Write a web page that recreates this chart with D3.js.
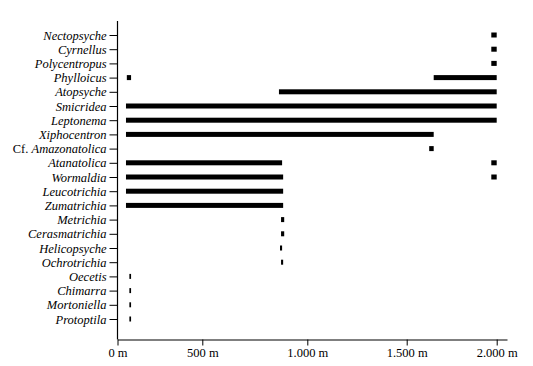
<!DOCTYPE html>
<html>
<head>
<meta charset="utf-8">
<script src="https://cdn.jsdelivr.net/npm/d3@7"></script>
<style>
    body { margin: 0; background: #fff; }
    text { font-family: "Liberation Serif", "DejaVu Serif", serif; }
</style>
</head>
<body>
<div id="chart"></div>
<script>
// taxa from top to bottom
const taxa = [
    "Nectopsyche", "Cyrnellus", "Polycentropus", "Phylloicus", "Atopsyche",
    "Smicridea", "Leptonema", "Xiphocentron", "Cf. Amazonatolica", "Atanatolica",
    "Wormaldia", "Leucotrichia", "Zumatrichia", "Metrichia", "Cerasmatrichia",
    "Helicopsyche", "Ochrotrichia", "Oecetis", "Chimarra", "Mortoniella", "Protoptila"
];

// altitude ranges (m) where each taxon occurs, one list per taxon
const ranges = [
    [[1970, 2000]],
    [[1970, 2000]],
    [[1970, 2000]],
    [[55, 80], [1650, 2000]],
    [[865, 2000]],
    [[50, 2000]],
    [[50, 2000]],
    [[50, 1650]],
    [[1625, 1650]],
    [[50, 880], [1970, 2000]],
    [[50, 885], [1970, 2000]],
    [[50, 885]],
    [[50, 885]],
    [[875, 890]],
    [[875, 890]],
    [[870, 880]],
    [[875, 885]],
    [[70, 80]],
    [[70, 80]],
    [[70, 80]],
    [[70, 80]]
];

const xTicks = [0, 500, 1000, 1500, 2000];

const width = 533;
const height = 366;

const svg = d3.select("#chart")
    .append("svg")
    .attr("width", width)
    .attr("height", height);

// the printed axis is not evenly spaced, so follow its tick positions
const xScale = d3.scaleLinear()
    .domain([0, 500, 1000, 1500, 2000, 2060])
    .range([117.5, 202.3, 307.3, 406.7, 496.7, 507]);

const yScale = d3.scalePoint()
    .domain(taxa)
    .range([35, 319]);

const locale = d3.formatLocale({ decimal: ",", thousands: ".", grouping: [3], currency: ["", ""] });
const fmt = locale.format(",");

const segments = [];
ranges.forEach((list, i) => {
    list.forEach(r => segments.push({ taxon: taxa[i], start: r[0], end: r[1] }));
});

svg.selectAll("rect.seg")
    .data(segments)
    .enter()
    .append("rect")
    .attr("class", "seg")
    .attr("x", d => xScale(d.start))
    .attr("y", d => yScale(d.taxon) - 2.5)
    .attr("width", d => xScale(d.end) - xScale(d.start))
    .attr("height", 5)
    .attr("fill", "#000");

// x axis
const xAxis = svg.append("g")
    .attr("transform", "translate(0,339.5)")
    .call(d3.axisBottom(xScale).tickValues(xTicks).tickSize(6).tickSizeOuter(0).tickFormat(d => fmt(d) + " m"));

xAxis.select(".domain").attr("stroke", "#000").attr("stroke-width", 1.2);
xAxis.selectAll(".tick line").attr("stroke", "#000");
xAxis.selectAll(".tick text")
    .attr("y", 9)
    .attr("fill", "#000")
    .style("font-size", "12.5px");

// y axis
const yAxis = svg.append("g")
    .attr("transform", "translate(117.5,0)")
    .call(d3.axisLeft(yScale).tickSize(8).tickSizeOuter(0));

yAxis.select(".domain").remove();
yAxis.selectAll(".tick line").attr("stroke", "#000");
yAxis.selectAll(".tick text")
    .attr("x", -11)
    .attr("fill", "#000")
    .style("font-size", "12.5px")
    .style("font-style", "italic")
    .each(function (d) {
        if (d.startsWith("Cf. ")) {
            const t = d3.select(this).text("");
            t.append("tspan").style("font-style", "normal").text("Cf. ");
            t.append("tspan").text(d.slice(4));
        }
    });

svg.append("line")
    .attr("x1", xScale(0))
    .attr("x2", xScale(0))
    .attr("y1", 21)
    .attr("y2", 339.5)
    .attr("stroke", "#000")
    .attr("stroke-width", 1.2);
</script>
</body>
</html>
